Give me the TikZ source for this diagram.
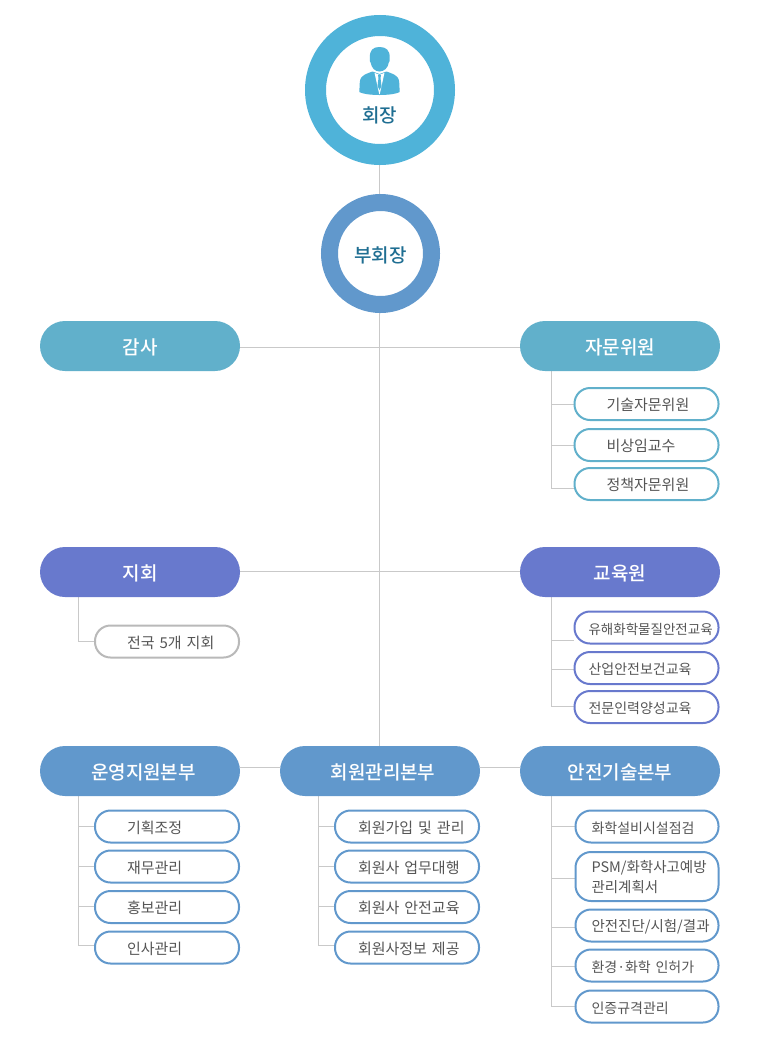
\documentclass[tikz,border=0pt]{standalone}
\usepackage{fontspec}
\setmainfont{Noto Sans CJK KR}[BoldFont={Noto Sans CJK KR Medium}]
\usetikzlibrary{calc,backgrounds}
\definecolor{ringa}{HTML}{4FB3D9}
\definecolor{ringb}{HTML}{6198CC}
\definecolor{teal}{HTML}{61B0CB}
\definecolor{indigo}{HTML}{6879CD}
\definecolor{blue}{HTML}{6198CC}
\definecolor{linec}{HTML}{C9C9C9}
\definecolor{textc}{HTML}{555555}
\definecolor{titlec}{HTML}{1F6E92}
\definecolor{greyb}{HTML}{B9B9B9}
\newcommand\lab[2]{\hspace*{#1pt}\raisebox{-1pt}[\height][\depth]{#2}}
\newcommand\labb[2]{\hspace*{#1pt}\raisebox{-1.5pt}[\height][\depth]{#2}}
\newcommand\tit[1]{\raisebox{-1.5pt}[\height][\depth]{#1}}
\tikzset{
  x=1pt,y=-1pt,
  head/.style={fill=#1,text=white,rounded corners=25pt,minimum width=200pt,minimum height=50pt,inner sep=0pt,outer sep=0pt,font=\fontsize{19}{22}\selectfont\bfseries},
  sub/.style={draw=#1,line width=2pt,fill=white,text=textc,rounded corners=15.5pt,text width=144pt,inner xsep=0pt,inner ysep=0pt,minimum height=32pt,outer sep=1pt,align=left,font=\fontsize{15}{24}\selectfont},
  subs/.style={sub=#1,font=\fontsize{14}{20}\selectfont},
  conn/.style={draw=linec,line width=1pt},
  ring/.style={circle,draw=#1,fill=white,inner sep=0pt,text=titlec,align=center,font=\fontsize{19}{22}\selectfont\bfseries},
}
\begin{document}
\begin{tikzpicture}
\useasboundingbox (0,0) rectangle (760,1047);
% rings
\node[ring=ringa,line width=21pt,outer sep=10.5pt,minimum size=129pt] (pres) at (380,90) {};
\node[ring=ringb,line width=17pt,outer sep=8.5pt,minimum size=102pt] (vice) at (380.5,253.5) {\tit{부회장}};
% heads
\node[head=teal] (audit) at (140,346) {\tit{감사}};
\node[head=teal] (advise) at (620,346) {\tit{자문위원}};
\node[head=indigo] (branch) at (140,572) {\tit{지회}};
\node[head=indigo] (edu) at (620,572) {\tit{교육원}};
\node[head=blue] (ops) at (140,771) {\hspace*{7pt}\tit{운영지원본부}};
\node[head=blue] (mem) at (380,771) {\hspace*{6pt}\tit{회원관리본부}};
\node[head=blue] (safe) at (620,771) {\tit{안전기술본부}};
% sub items
\node[sub=teal] (a1) at (646.5,404) {\lab{32}{기술자문위원}};
\node[sub=teal] (a2) at (646.5,445) {\lab{32}{비상임교수}};
\node[sub=teal] (a3) at (646.5,484) {\lab{32}{정책자문위원}};
\node[sub=greyb] (b1) at (167,641.5) {\lab{32}{전국 5개 지회}};
\node[subs=indigo,font=\fontsize{13.5}{20}\selectfont] (e1) at (646.5,627.5) {\labb{14}{유해화학물질안전교육}};
\node[subs=indigo] (e2) at (646.5,668) {\labb{14}{산업안전보건교육}};
\node[subs=indigo] (e3) at (646.5,707) {\labb{14}{전문인력양성교육}};
\node[sub=blue] (o1) at (167,826.5) {\lab{32}{기획조정}};
\node[sub=blue] (o2) at (167,866.5) {\lab{32}{재무관리}};
\node[sub=blue] (o3) at (167,907) {\lab{32}{홍보관리}};
\node[sub=blue] (o4) at (167,947.5) {\lab{32}{인사관리}};
\node[sub=blue] (m1) at (407,826.5) {\lab{23}{회원가입 및 관리}};
\node[sub=blue] (m2) at (407,866.5) {\lab{23}{회원사 업무대행}};
\node[sub=blue] (m3) at (407,907) {\lab{23}{회원사 안전교육}};
\node[sub=blue] (m4) at (407,947.5) {\lab{23}{회원사정보 제공}};
\node[subs=blue,text width=143pt] (s1) at (647,826.5) {\labb{16}{화학설비시설점검}};
\node[subs=blue,text width=143pt,minimum height=49pt,font=\fontsize{14.5}{20}\selectfont] (s2) at (647,876.5) {\lab{16}{PSM/화학사고예방}\\\lab{16}{관리계획서}};
\node[subs=blue,text width=143pt,font=\fontsize{14.5}{20}\selectfont] (s3) at (647,925.5) {\labb{16}{안전진단/시험/결과}};
\node[subs=blue,text width=143pt] (s4) at (647,965.5) {\labb{16}{환경·화학 인허가}};
\node[subs=blue,text width=143pt] (s5) at (647,1006.5) {\labb{16}{인증규격관리}};
% connectors
\coordinate (ta) at ($(advise.south west)+(31,0)$);
\coordinate (tb) at ($(branch.south west)+(38,0)$);
\coordinate (te) at ($(edu.south west)+(31,0)$);
\coordinate (to) at ($(ops.south west)+(38,0)$);
\coordinate (tm) at ($(mem.south west)+(38,0)$);
\coordinate (ts) at ($(safe.south west)+(31,0)$);
\begin{scope}[on background layer]
\draw[conn] ($(pres.south)+(-0.5,0)$) -- ($(vice.north)+(-1,0)$);
\draw[conn] ($(vice.south)+(-1,0)$) -- ($(mem.north)+(-0.5,0)$);
\draw[conn] ($(audit.east)+(0,1.5)$) -- ($(advise.west)+(0,1.5)$);
\draw[conn] ($(branch.east)+(0,-0.5)$) -- ($(edu.west)+(0,-0.5)$);
\draw[conn] ($(ops.east)+(0,-3.5)$) -- ($(mem.west)+(0,-3.5)$);
\draw[conn] ($(mem.east)+(0,-3.5)$) -- ($(safe.west)+(0,-3.5)$);
\foreach \t/\c/\d in {ta/a1/0,ta/a2/0,ta/a3/4,tb/b1/0,te/e1/12.5,te/e2/1,te/e3/-1,to/o1/0,to/o2/0,to/o3/-1,to/o4/-2.5,tm/m1/0,tm/m2/0,tm/m3/-1,tm/m4/-2.5,ts/s1/0,ts/s2/1.5,ts/s3/1.5,ts/s4/0.5,ts/s5/0}
  \draw[conn] (\t) |- ($(\c.west)+(0,\d)$);
\end{scope}
% president icon
\fill[ringa] (369.8,58) .. controls (369.6,50) and (373,47) .. (379.5,47) .. controls (386,47) and (390,50) .. (389.7,58) .. controls (390.3,60) and (389.5,62) .. (388.8,62.5) .. controls (388,68) and (384,71.5) .. (379.5,71.5) .. controls (375,71.5) and (371.5,68) .. (370.6,62.5) .. controls (370,62) and (369.2,60) .. (369.8,58) -- cycle;
\fill[ringa] (372.5,71.5) .. controls (366,74) and (360.5,75) .. (359.8,82) -- (359.3,92) .. controls (364,94.5) and (374,95) .. (379.5,95) .. controls (385,95) and (395,94.5) .. (399.7,92) -- (399.2,82) .. controls (398.5,75) and (393,74) .. (386.5,71.5) -- (379.5,74) -- cycle;
\fill[white] (374.5,72.8) -- (379.5,75) -- (384.5,72.8) -- (379.8,94) -- (379.2,94) -- cycle;
\fill[ringa] (378,75) -- (381,75) -- (380.5,78) -- (381.5,86) -- (379.5,90) -- (377.5,86) -- (378.5,78) -- cycle;
\node[text=titlec,inner sep=0pt,font=\fontsize{19}{22}\selectfont\bfseries] (ptext) at (379.5,115.5) {회장};
\end{tikzpicture}
\end{document}
